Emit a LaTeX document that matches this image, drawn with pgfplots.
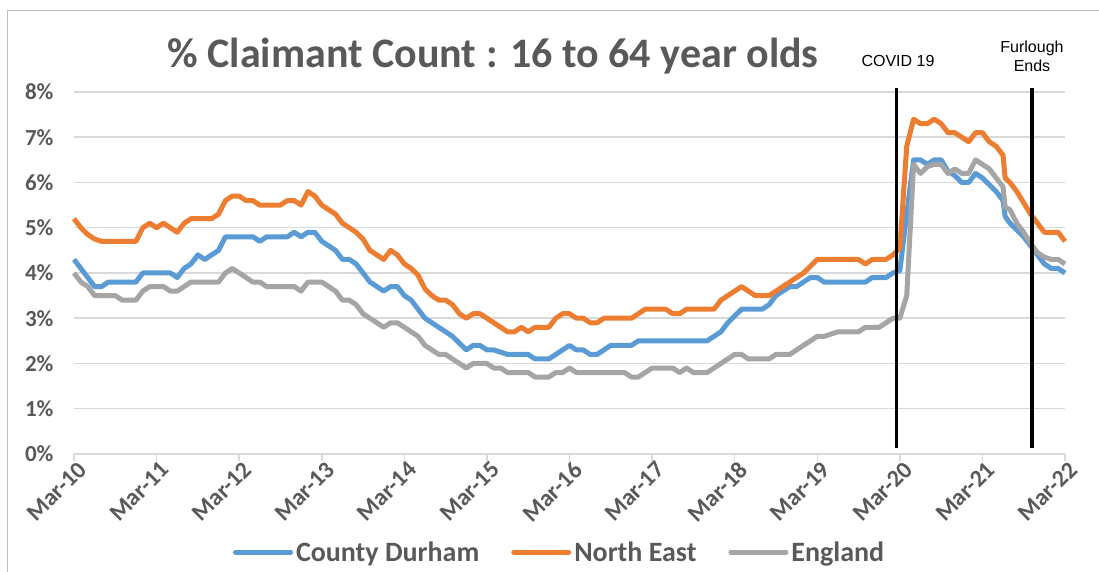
\documentclass[border=0pt]{standalone}
\usepackage{pgfplots}
\pgfplotsset{compat=1.18}
\usepackage{pgfplotstable}
\usepackage{fontspec}
\setmainfont{Carlito}
\newfontfamily\arialfont{Liberation Sans}
\definecolor{cdblue}{HTML}{5B9BD5}
\definecolor{neorange}{HTML}{ED7D31}
\definecolor{engray}{HTML}{A5A5A5}
\definecolor{txtgray}{HTML}{595959}
\definecolor{gridgray}{HTML}{D9D9D9}
\definecolor{bordergray}{HTML}{BFBFBF}

\pgfplotstableread{
m cd ne en
0 4.3 5.2 4.0
1 4.1 5.0 3.8
2 3.9 4.85 3.7
3 3.7 4.75 3.5
4 3.7 4.7 3.5
5 3.8 4.7 3.5
6 3.8 4.7 3.5
7 3.8 4.7 3.4
8 3.8 4.7 3.4
9 3.8 4.7 3.4
10 4.0 5.0 3.6
11 4.0 5.1 3.7
12 4.0 5.0 3.7
13 4.0 5.1 3.7
14 4.0 5.0 3.6
15 3.9 4.9 3.6
16 4.1 5.1 3.7
17 4.2 5.2 3.8
18 4.4 5.2 3.8
19 4.3 5.2 3.8
20 4.4 5.2 3.8
21 4.5 5.3 3.8
22 4.8 5.6 4.0
23 4.8 5.7 4.1
24 4.8 5.7 4.0
25 4.8 5.6 3.9
26 4.8 5.6 3.8
27 4.7 5.5 3.8
28 4.8 5.5 3.7
29 4.8 5.5 3.7
30 4.8 5.5 3.7
31 4.8 5.6 3.7
32 4.9 5.6 3.7
33 4.8 5.5 3.6
34 4.9 5.8 3.8
35 4.9 5.7 3.8
36 4.7 5.5 3.8
37 4.6 5.4 3.7
38 4.5 5.3 3.6
39 4.3 5.1 3.4
40 4.3 5.0 3.4
41 4.2 4.9 3.3
42 4.0 4.75 3.1
43 3.8 4.5 3.0
44 3.7 4.4 2.9
45 3.6 4.3 2.8
46 3.7 4.5 2.9
47 3.7 4.4 2.9
48 3.5 4.2 2.8
49 3.4 4.1 2.7
50 3.2 3.95 2.6
51 3.0 3.65 2.4
52 2.9 3.5 2.3
53 2.8 3.4 2.2
54 2.7 3.4 2.2
55 2.6 3.3 2.1
56 2.45 3.1 2.0
57 2.3 3.0 1.9
58 2.4 3.1 2.0
59 2.4 3.1 2.0
60 2.3 3.0 2.0
61 2.3 2.9 1.9
62 2.25 2.8 1.9
63 2.2 2.7 1.8
64 2.2 2.7 1.8
65 2.2 2.8 1.8
66 2.2 2.7 1.8
67 2.1 2.8 1.7
68 2.1 2.8 1.7
69 2.1 2.8 1.7
70 2.2 3.0 1.8
71 2.3 3.1 1.8
72 2.4 3.1 1.9
73 2.3 3.0 1.8
74 2.3 3.0 1.8
75 2.2 2.9 1.8
76 2.2 2.9 1.8
77 2.3 3.0 1.8
78 2.4 3.0 1.8
79 2.4 3.0 1.8
80 2.4 3.0 1.8
81 2.4 3.0 1.7
82 2.5 3.1 1.7
83 2.5 3.2 1.8
84 2.5 3.2 1.9
85 2.5 3.2 1.9
86 2.5 3.2 1.9
87 2.5 3.1 1.9
88 2.5 3.1 1.8
89 2.5 3.2 1.9
90 2.5 3.2 1.8
91 2.5 3.2 1.8
92 2.5 3.2 1.8
93 2.6 3.2 1.9
94 2.7 3.4 2.0
95 2.9 3.5 2.1
96 3.05 3.6 2.2
97 3.2 3.7 2.2
98 3.2 3.6 2.1
99 3.2 3.5 2.1
100 3.2 3.5 2.1
101 3.3 3.5 2.1
102 3.5 3.6 2.2
103 3.6 3.7 2.2
104 3.7 3.8 2.2
105 3.7 3.9 2.3
106 3.8 4.0 2.4
107 3.9 4.15 2.5
108 3.9 4.3 2.6
109 3.8 4.3 2.6
110 3.8 4.3 2.65
111 3.8 4.3 2.7
112 3.8 4.3 2.7
113 3.8 4.3 2.7
114 3.8 4.3 2.7
115 3.8 4.2 2.8
116 3.9 4.3 2.8
117 3.9 4.3 2.8
118 3.9 4.3 2.9
119 4.0 4.4 3.0
120 4.05 4.55 3.0
121 5.3 6.8 3.5
122 6.5 7.4 6.4
123 6.5 7.3 6.2
124 6.4 7.3 6.35
125 6.5 7.4 6.4
126 6.5 7.3 6.4
127 6.25 7.1 6.2
128 6.15 7.1 6.3
129 6.0 7.0 6.2
130 6.0 6.9 6.2
131 6.2 7.1 6.5
132 6.1 7.1 6.4
133 5.95 6.9 6.3
134 5.8 6.8 6.1
135 5.6 6.6 5.9
135.3 5.25 6.1 5.45
136 5.1 6.0 5.4
137 4.95 5.8 5.1
138 4.8 5.55 4.9
139 4.6 5.3 4.65
140 4.4 5.1 4.45
141 4.2 4.9 4.35
142 4.1 4.9 4.3
143 4.1 4.9 4.3
144 4.0 4.7 4.2
}\claimant

\begin{document}
\begin{tikzpicture}
\useasboundingbox (0,0) rectangle (1099pt,572pt);
\draw[bordergray, line width=1pt] (7pt,-5pt) -- (7pt,561pt) -- (1110pt,561pt);
\begin{axis}[
  at={(74pt,118pt)}, anchor=south west,
  scale only axis, width=991pt, height=362pt,
  xmin=0, xmax=144, ymin=0, ymax=8,
  clip=false,
  axis x line*=bottom, axis y line*=left,
  x axis line style={-, draw=gridgray, line width=1.5pt},
  y axis line style={-, draw=none},
  xtick={0,12,...,144},
  xticklabels={Mar-10,Mar-11,Mar-12,Mar-13,Mar-14,Mar-15,Mar-16,Mar-17,Mar-18,Mar-19,Mar-20,Mar-21,Mar-22},
  xtick align=outside,
  major tick length=7pt,
  xtick style={draw=gridgray, line width=1.5pt},
  ytick={0,1,...,8},
  yticklabels={0\%,1\%,2\%,3\%,4\%,5\%,6\%,7\%,8\%},
  ymajorgrids,
  grid style={draw=gridgray, line width=1.5pt},
  ytick style={draw=none},
  xticklabel style={rotate=45, anchor=north east, font=\fontsize{24}{28}\selectfont\bfseries, text=txtgray, xshift=6pt, yshift=2pt},
  yticklabel style={anchor=east, font=\fontsize{23}{27}\selectfont\bfseries, text=txtgray, xshift=-17pt},
  legend columns=3,
  legend style={at={(0.49,-0.271)}, anchor=center, draw=none, fill=none,
    font=\fontsize{28}{32}\selectfont\bfseries, text=txtgray,
    /tikz/every odd column/.append style={column sep=1pt},
    /tikz/every even column/.append style={column sep=30pt},
    inner sep=0pt},
  legend cell align=left,
  legend image code/.code={\draw[#1, line width=5pt, line cap=round] (0pt,0pt) -- (55pt,0pt);},
]
\addplot[cdblue, line width=5pt, line join=round] table[x=m, y=cd] {\claimant};
\addlegendentry{County Durham}
\addplot[neorange, line width=5pt, line join=round] table[x=m, y=ne] {\claimant};
\addlegendentry{North East}
\addplot[engray, line width=5pt, line join=round] table[x=m, y=en] {\claimant};
\addlegendentry{England}
\addplot[black, line width=3.6pt, forget plot] coordinates {(119.5,0.14) (119.5,8.08)};
\addplot[black, line width=3.6pt, forget plot] coordinates {(139.2,0.14) (139.2,8.08)};
\end{axis}
\node[anchor=base, text=txtgray, font=\fontsize{42}{48}\selectfont\bfseries] at (493pt,504pt) {\% Claimant Count : 16 to 64 year olds};
\node[anchor=base, font=\arialfont\fontsize{16}{19}\selectfont] at (898pt,505pt) {COVID 19};
\node[anchor=base, font=\arialfont\fontsize{16}{19}\selectfont] at (1032pt,519pt) {Furlough};
\node[anchor=base, font=\arialfont\fontsize{16}{19}\selectfont] at (1032pt,500pt) {Ends};
\end{tikzpicture}
\end{document}
